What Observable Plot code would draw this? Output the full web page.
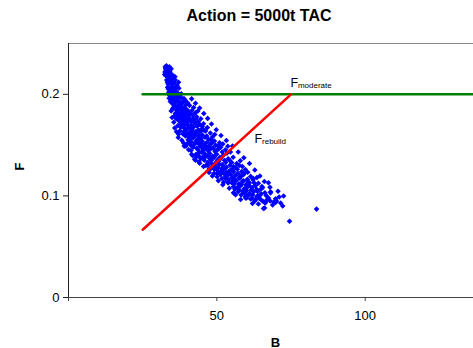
<!DOCTYPE html>
<html>
<head>
<meta charset="utf-8">
<script src="https://cdn.jsdelivr.net/npm/d3@7"></script>
<script src="https://cdn.jsdelivr.net/npm/@observablehq/plot@0.6"></script>
<style>
  html, body { margin: 0; padding: 0; background: #fff; width: 473px; height: 348px; overflow: hidden; }
  #title { width: 473px; height: 30px; box-sizing: border-box; padding-left: 45px; padding-top: 7px;
           text-align: center; font: bold 16px "Liberation Sans", Arial, sans-serif; color: #000; line-height: 18px; }
</style>
</head>
<body>
<div id="title"></div>
<div id="chart"></div>
<script>
const titleText = "Action = 5000t TAC";
const xLabel = "B";
const yLabel = "F";
const xDomain = [0, 136.5];
const yDomain = [0, 0.25];
const xTicks = [0, 50, 100];
const yTicks = [0, 0.1, 0.2];

// Fmoderate reference line (B, F)
const moderateB = [25, 150];
const moderateF = [0.2, 0.2];
// Frebuild reference line (B, F)
const rebuildB = [25, 75];
const rebuildF = [0.0667, 0.2];

const labelModerate = {B: 74.8, F: 0.2067, main: "F", sub: "moderate"};
const labelRebuild = {B: 62.7, F: 0.1516, main: "F", sub: "rebuild"};

// simulated (B, F) outcomes
const scatterBF = [
  [32.6,.227],[33.0,.228],[33.4,.226],[32.8,.224],[33.6,.225],[34.0,.227],[32.5,.222],[33.2,.221],[34.2,.223],[33.8,.220],
  [32.9,.218],[33.5,.217],[34.3,.219],[35.0,.216],[33.1,.214],[34.0,.213],[35.4,.218],[34.6,.212],[36.0,.214],[33.6,.210],
  [33.4,.207],[34.2,.206],[35.0,.208],[35.8,.205],[36.6,.209],[34.6,.203],[33.8,.202],[35.4,.201],[36.2,.203],[37.2,.206],[34.0,.199],[35.1,.198],
  [34.5,.196],[35.6,.195],[36.4,.197],[37.4,.199],[38.2,.196],[36.0,.192],[37.0,.193],[35.0,.191],[38.6,.192],[37.8,.190],[34.3,.193],[36.8,.189],[39.4,.194],
  [35.4,.187],[36.2,.185],[37.3,.186],[38.1,.188],[39.0,.187],[39.8,.185],[40.8,.189],[36.6,.182],[37.6,.181],[38.6,.183],[39.5,.180],[40.5,.182],[41.6,.184],[35.8,.179],[38.0,.178],[42.2,.187],
  [36.3,.176],[37.2,.174],[38.4,.175],[39.2,.177],[40.1,.176],[41.0,.174],[42.0,.176],[43.2,.178],[37.8,.171],[39.0,.170],[40.0,.172],[41.3,.170],[42.5,.172],[43.8,.173],[38.5,.168],[40.6,.167],[44.6,.176],[36.8,.169],[45.5,.171],
  [37.5,.164],[38.8,.163],[39.8,.165],[40.8,.162],[41.8,.164],[42.8,.163],[43.8,.165],[45.0,.166],[46.2,.164],[39.4,.159],[40.5,.158],[41.6,.160],[42.7,.159],[43.9,.157],[45.1,.160],[46.6,.159],[47.8,.162],[41.0,.155],[38.6,.161],[48.5,.158],
  [40.2,.152],[41.4,.153],[42.5,.151],[43.6,.154],[44.6,.152],[45.7,.150],[46.8,.153],[47.9,.151],[49.2,.154],[50.4,.149],[42.0,.148],[43.2,.147],[44.3,.149],[45.4,.146],[46.5,.148],[47.6,.146],[48.8,.147],[50.0,.145],[51.3,.148],[44.8,.143],[46.0,.141],[39.6,.149],[52.0,.151],
  [43.0,.141],[44.0,.139],[45.2,.138],[46.4,.140],[47.5,.137],[48.6,.139],[49.8,.141],[51.0,.138],[52.2,.140],[53.4,.142],[45.8,.135],[47.0,.133],[48.2,.135],[49.4,.132],[50.6,.134],[51.8,.131],[53.0,.133],[54.3,.135],[55.5,.138],[46.3,.130],[48.8,.129],[42.5,.136],
  [48.0,.127],[49.2,.126],[50.4,.128],[51.6,.125],[52.8,.127],[54.0,.124],[55.2,.126],[56.4,.128],[57.6,.130],[50.0,.122],[51.2,.121],[52.4,.122],[53.6,.120],[54.8,.121],[56.0,.119],[57.2,.122],[58.4,.124],[59.6,.126],[53.0,.117],[55.4,.116],[47.4,.123],
  [53.8,.114],[55.0,.113],[56.2,.115],[57.4,.112],[58.6,.114],[59.8,.111],[61.0,.113],[62.2,.116],[55.6,.109],[56.8,.108],[58.0,.110],[59.2,.107],[60.4,.109],[61.6,.106],[63.0,.110],[57.2,.104],[63.5,.118],
  [59.5,.102],[60.8,.101],[62.4,.104],[63.4,.099],[64.6,.101],[66.2,.103],[61.4,.097],[62.8,.095],[65.0,.096],[67.4,.098],[64.0,.092],[66.3,.093],[68.0,.095],[69.2,.094],[71.0,.099],
  [67.4,.113],[72.5,.100],[71.5,.093],[70.1,.095],[68.8,.091],[66.1,.088],[66.4,.094],[68.1,.104],
  [74.5,.075],[83.6,.087],[72.2,.090],[60.0,.098],
  [33.3,.2235],[32.7,.2255],[34.5,.2205],[33.9,.2165],[34.8,.2145],[32.4,.2195],[33.7,.2188],[34.6,.2252],
  [33.3,.2118],[34.9,.2096],[35.6,.2112],[34.1,.2048],[35.3,.2036],[36.1,.2068],[33.6,.2052],[35.7,.2024],[36.8,.2013],[34.7,.2155],[35.9,.2172],[37.1,.2118],
  [33.9,.1962],[34.8,.1945],[35.9,.1987],[36.7,.1941],[35.3,.1903],[36.1,.1878],[37.6,.1925],[38.9,.1958],[36.9,.1837],[37.9,.1852],[38.4,.1861],[39.6,.1898],[40.2,.1915],[35.1,.1858],[37.2,.1969],[38.0,.2005],[36.5,.2002],
  [36.0,.1812],[37.0,.1778],[38.2,.1798],[39.2,.1822],[40.1,.1843],[41.1,.1806],[41.9,.1795],[40.7,.1768],[39.6,.1745],[38.7,.1722],[37.6,.1751],[42.8,.1818],[43.6,.1835],[36.9,.1795],[39.3,.1788],[40.4,.1798],[41.5,.1742],[42.9,.1757],[38.0,.1735],
  [37.9,.1676],[39.3,.1662],[40.2,.1694],[41.2,.1683],[42.1,.1676],[43.3,.1689],[44.2,.1702],[45.1,.1684],[39.9,.1612],[41.1,.1631],[42.3,.1622],[43.4,.1611],[44.5,.1634],[45.7,.1645],[46.8,.1672],[40.3,.1552],[42.0,.1571],[43.2,.1548],[44.7,.1565],[46.0,.1578],[47.2,.1558],[48.0,.1552],[49.3,.1605],[37.1,.1608],[44.0,.1595],[41.6,.1655],[42.6,.1718],[40.9,.1598],
  [41.2,.1498],[42.8,.1527],[44.0,.1512],[45.1,.1538],[46.2,.1516],[47.3,.1489],[48.4,.1521],[49.6,.1498],[50.9,.1522],[43.7,.1452],[44.9,.1478],[46.0,.1463],[47.1,.1441],[48.3,.1469],[49.4,.1437],[50.6,.1461],[51.8,.1432],[52.9,.1455],[45.5,.1425],[47.6,.1418],[49.9,.1409],[41.3,.1446],[53.7,.1488],[54.6,.1432],[40.9,.1535],[43.9,.1423],
  [44.6,.1368],[46.0,.1381],[47.2,.1396],[48.0,.1362],[49.1,.1378],[50.2,.1352],[51.4,.1371],[52.6,.1348],[53.8,.1365],[55.0,.1328],[46.9,.1302],[48.1,.1318],[49.6,.1289],[50.8,.1312],[52.0,.1296],[53.2,.1281],[54.4,.1302],[55.6,.1288],[56.7,.1318],[57.9,.1345],[47.5,.1268],[49.9,.1262],[51.6,.1268],[54.7,.1258],[56.9,.1262],[44.2,.1322],[58.6,.1289],
  [49.0,.1221],[50.6,.1232],[51.9,.1244],[53.2,.1229],[54.4,.1215],[55.7,.1238],[56.8,.1214],[58.0,.1192],[59.2,.1218],[51.7,.1172],[52.9,.1188],[54.1,.1162],[55.2,.1178],[56.5,.1152],[57.8,.1173],[59.0,.1148],[60.3,.1164],[61.4,.1192],[53.8,.1128],[55.9,.1118],[58.3,.1112],[60.9,.1102],[52.3,.1135],[62.6,.1128],[50.1,.1188],[60.4,.1232],
  [56.1,.1065],[57.6,.1058],[58.8,.1042],[60.0,.1052],[61.0,.1025],[62.1,.1011],[63.7,.1043],[64.8,.1066],[58.2,.1008],[59.6,.0992],[61.8,.0978],[63.1,.0962],[64.3,.0978],[65.6,.0945],[66.9,.0962],[62.0,.0925],[69.8,.0972],[60.1,.1088],[65.2,.1092],
  [41.8,.1398],[38.8,.1520],[42.8,.1350],[55.6,.1030],[57.0,.1080],[59.7,.0980],[63.7,.1000],[65.7,.0876],[69.8,.0935],[68.1,.1030],
  [34.6,.1835],[34.9,.1772],[35.5,.1725],[35.8,.1668],[36.4,.1632],[37.0,.1575],[38.2,.1548],[39.0,.1490],[40.5,.1455],[41.5,.1410],[43.0,.1380],[44.0,.1335],[45.5,.1290],[47.0,.1245],[48.5,.1195],[50.5,.1150],[52.0,.1110],[54.2,.1075],[56.3,.1012],[58.0,.0965],
  [41.5,.1955],[42.8,.1912],[44.2,.1865],[45.6,.1812],[46.9,.1763],[48.2,.1708],[49.8,.1652],[51.4,.1595],[53.2,.1545],[55.3,.1492],[57.2,.1432],[59.1,.1375],[61.0,.1318],[62.8,.1255],[64.5,.1195],[66.0,.1142],[67.9,.1085],[70.6,.1045],
  [57.5,.1175],[58.8,.1205],[60.5,.1140],[61.9,.1082],[63.4,.1065],[64.9,.1020],[66.6,.1005],[62.3,.1172],[64.0,.1125],[65.4,.1080]
];

document.getElementById("title").textContent = titleText;

const font = '"Liberation Sans", Arial, sans-serif';
const moderateLine = moderateB.map((b, i) => ({B: b, F: moderateF[i]}));
const rebuildLine = rebuildB.map((b, i) => ({B: b, F: rebuildF[i]}));

const chart = Plot.plot({
  width: 473,
  height: 318,
  marginTop: 13,
  marginBottom: 51,
  marginLeft: 68,
  marginRight: 0,
  style: {fontFamily: font, fontSize: "13px", color: "#000", background: "#fff", overflow: "hidden"},
  x: {domain: xDomain},
  y: {domain: yDomain},
  marks: [
    Plot.ruleY([yDomain[1]], {stroke: "#888", strokeWidth: 1}),
    Plot.dot(scatterBF, {x: d => d[0], y: d => d[1], symbol: "diamond2", r: 2.5, fill: "#0000FF", stroke: "none", clip: true}),
    Plot.line(moderateLine, {x: "B", y: "F", stroke: "#008000", strokeWidth: 2.5, clip: true}),
    Plot.line(rebuildLine, {x: "B", y: "F", stroke: "#FF0000", strokeWidth: 2.5}),
    Plot.ruleX([xDomain[0]], {stroke: "#222", strokeWidth: 1}),
    Plot.ruleY([yDomain[0]], {stroke: "#444", strokeWidth: 1}),
    Plot.axisY({ticks: yTicks, tickFormat: d => d === 0 ? "0" : d3.format(".1f")(d), tickSize: 5, tickPadding: 4, label: null, fontSize: 13, stroke: "#222"}),
    Plot.axisX({ticks: xTicks, tickFormat: d => d === 0 ? "" : String(d), tickSize: 4, tickPadding: 9, label: null, fontSize: 13, stroke: "#444"}),
    Plot.text([labelModerate], {x: "B", y: "F", text: "main", textAnchor: "start", lineAnchor: "bottom", fontSize: 12.5}),
    Plot.text([labelModerate], {x: "B", y: "F", text: "sub", textAnchor: "start", lineAnchor: "bottom", fontSize: 8, dx: 7.5, dy: 1}),
    Plot.text([labelRebuild], {x: "B", y: "F", text: "main", textAnchor: "start", lineAnchor: "bottom", fontSize: 12.5}),
    Plot.text([labelRebuild], {x: "B", y: "F", text: "sub", textAnchor: "start", lineAnchor: "bottom", fontSize: 8, dx: 7.5, dy: 1}),
    Plot.text([xLabel], {frameAnchor: "bottom", text: d => d, fontWeight: "bold", fontSize: 13, lineAnchor: "bottom", dx: 4.5, dy: 49}),
    Plot.text([yLabel], {frameAnchor: "left", text: d => d, fontWeight: "bold", fontSize: 13, rotate: -90, lineAnchor: "middle", dx: -49})
  ]
});
document.getElementById("chart").appendChild(chart);
</script>
</body>
</html>
